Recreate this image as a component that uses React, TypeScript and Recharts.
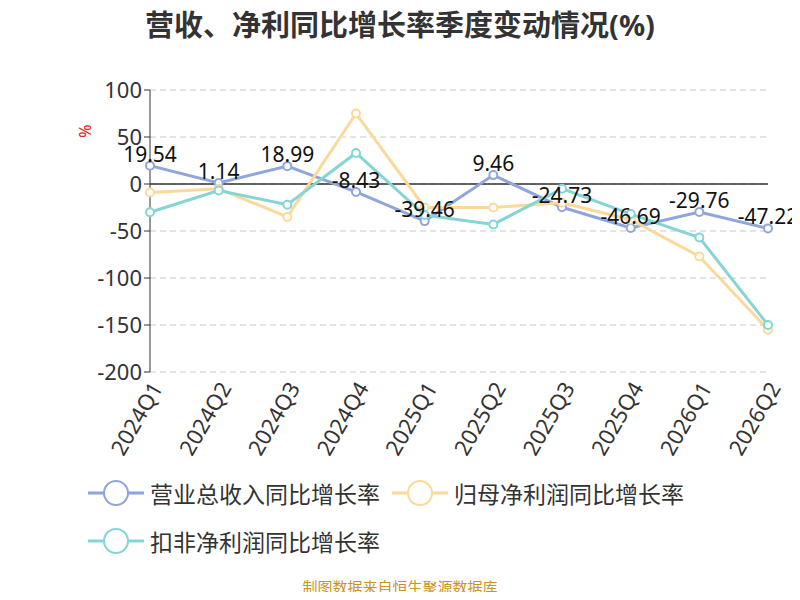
import { CartesianGrid, LabelList, Line, LineChart, ReferenceLine, XAxis, YAxis } from "recharts";

const quarters = ["2024Q1", "2024Q2", "2024Q3", "2024Q4", "2025Q1", "2025Q2", "2025Q3", "2025Q4", "2026Q1", "2026Q2"];
const revenue = [19.54, 1.14, 18.99, -8.43, -39.46, 9.46, -24.73, -46.69, -29.76, -47.22];
const netProfit = [-9, -5, -35, 75, -25, -25, -20, -38, -77, -155];
const deductedProfit = [-30, -7, -22, 33, -33, -43, -5, -32, -57, -150];
const yTicks = [100, 50, 0, -50, -100, -150, -200];

const series = [
  { key: "revenue", name: "营业总收入同比增长率", color: "#8ea6dc" },
  { key: "netProfit", name: "归母净利润同比增长率", color: "#fbd99a" },
  { key: "deducted", name: "扣非净利润同比增长率", color: "#84d5d4" },
];

const data = quarters.map((q, i) => ({
  q,
  revenue: revenue[i],
  netProfit: netProfit[i],
  deducted: deductedProfit[i],
}));

const font = "'Noto Sans', 'Noto Sans CJK SC', sans-serif";

function LegendItem({ name, color }: { name: string; color: string }) {
  return (
    <div style={{ display: "flex", alignItems: "center", marginRight: 12 }}>
      <svg width={56} height={30}>
        <line x1={0} y1={15} x2={56} y2={15} stroke={color} strokeWidth={3} />
        <circle cx={28} cy={15} r={12} fill="#fff" stroke={color} strokeWidth={2} />
      </svg>
      <span style={{ fontSize: 23, color: "#333", marginLeft: 6 }}>{name}</span>
    </div>
  );
}

export default function App() {
  return (
    <div style={{ position: "relative", width: 800, height: 600, margin: -8, background: "#fff", fontFamily: font, overflow: "hidden" }}>
      <div style={{ position: "absolute", top: 2, width: 800, textAlign: "center", fontSize: 29, fontWeight: 700, color: "#333" }}>
        营收、净利同比增长率季度变动情况(%)
      </div>
      <div style={{ position: "absolute", left: 78, top: 120, color: "#e02020", fontSize: 16, transform: "rotate(-90deg)" }}>%</div>
      <div style={{ position: "absolute", left: 0, top: 0 }}>
        <LineChart width={800} height={472} data={data} margin={{ top: 90, right: 32, bottom: 0, left: 0 }}>
          <CartesianGrid horizontal vertical={false} stroke="#c8c8c8" strokeDasharray="6 4" />
          <XAxis
            dataKey="q"
            axisLine={false}
            tickLine={false}
            interval={0}
            height={100}
            angle={-60}
            textAnchor="end"
            tick={{ fontSize: 22, fill: "#333", fontFamily: font }}
          />
          <YAxis
            domain={[-200, 100]}
            ticks={yTicks}
            width={150}
            axisLine={{ stroke: "#333" }}
            tickLine={{ stroke: "#333" }}
            tick={{ fontSize: 22, fill: "#333", fontFamily: font }}
          />
          <ReferenceLine y={0} stroke="#333" strokeWidth={1.5} />
          {series.map((s) => (
            <Line
              key={s.key}
              dataKey={s.key}
              stroke={s.color}
              strokeWidth={3}
              dot={{ r: 4, fill: "#fff", stroke: s.color, strokeWidth: 2 }}
              isAnimationActive={false}
            >
              {s.key === "revenue" ? (
                <LabelList dataKey="revenue" position="top" offset={4} style={{ fontSize: 21, fill: "#111", fontFamily: font }} />
              ) : null}
            </Line>
          ))}
        </LineChart>
      </div>
      <div style={{ position: "absolute", left: 88, top: 476, width: 700, display: "flex", flexWrap: "wrap", rowGap: 14 }}>
        {series.map((s) => (
          <LegendItem key={s.key} name={s.name} color={s.color} />
        ))}
      </div>
      <div style={{ position: "absolute", top: 577, width: 800, textAlign: "center", fontSize: 15, lineHeight: "20px", color: "#c9941f" }}>
        制图数据来自恒生聚源数据库
      </div>
    </div>
  );
}
